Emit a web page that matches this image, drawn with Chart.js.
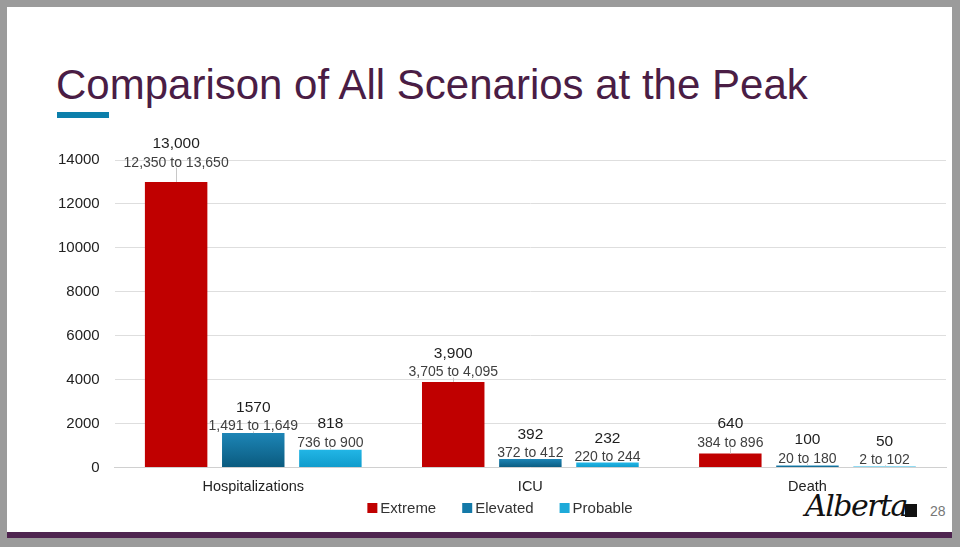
<!DOCTYPE html>
<html>
<head>
<meta charset="utf-8">
<script src="https://cdn.jsdelivr.net/npm/chart.js@4.4.0/dist/chart.umd.min.js"></script>
<style>
  html, body { margin: 0; padding: 0; }
  body { width: 960px; height: 547px; background: #9b9b9b; position: relative; overflow: hidden; font-family: "Liberation Sans", Arial, sans-serif; }
  .slide { position: absolute; left: 7px; top: 7px; width: 945px; height: 525px; background: #fff; }
  .footbar { position: absolute; left: 7px; top: 532px; width: 945px; height: 6px; background: #4f2550; }
  .title { position: absolute; left: 56px; top: 61px; font-size: 42px; color: #4a1d45; white-space: nowrap; }
  .underline { position: absolute; left: 57px; top: 112px; width: 52px; height: 6px; background: #0c7fab; }
  .logo { position: absolute; left: 805px; top: 488px; font-family: "DejaVu Serif", serif; font-style: italic; font-size: 30px; color: #111; letter-spacing: -1.5px; }
  .logo-box { position: absolute; left: 905px; top: 504px; width: 12px; height: 13px; background: #111; }
  .pagenum { position: absolute; left: 930px; top: 503px; font-size: 14px; color: #777; }
  #chart { position: absolute; left: 0; top: 0; }
</style>
</head>
<body>
<div class="slide"></div>
<div class="footbar"></div>
<div class="title">Comparison of All Scenarios at the Peak</div>
<div class="underline"></div>
<div class="logo">Alberta</div>
<div class="logo-box"></div>
<div class="pagenum">28</div>
<canvas id="chart" width="960" height="547"></canvas>
<script>
// --- DATA ---
const categories = ['Hospitalizations', 'ICU', 'Death'];
const scenarios = ['Extreme', 'Elevated', 'Probable'];
const extremeValues = [13000, 3900, 640];
const elevatedValues = [1570, 392, 100];
const probableValues = [818, 232, 50];
const extremeLow = [12350, 3705, 384];
const extremeHigh = [13650, 4095, 896];
const elevatedLow = [1491, 372, 20];
const elevatedHigh = [1649, 412, 180];
const probableLow = [736, 220, 2];
const probableHigh = [900, 244, 102];
const valueLabels = [
    ['13,000', '3,900', '640'],
    ['1570', '392', '100'],
    ['818', '232', '50']
];
const yTicks = [0, 2000, 4000, 6000, 8000, 10000, 12000, 14000];

const lows = [extremeLow, elevatedLow, probableLow];
const highs = [extremeHigh, elevatedHigh, probableHigh];
const legendColors = ['#c00000', '#1479a8', '#1eaad9'];
const FONT = '"Liberation Sans", Arial, sans-serif';

function fmt(n) {
    return n.toLocaleString('en-US');
}

// per-bar vertical gradient, like the shape fill in the slide
function gradient(top, bottom) {
    return (ctx) => {
        const chart = ctx.chart;
        if (!chart.chartArea || ctx.type !== 'data') return bottom;
        const y = chart.scales.y;
        const y0 = y.getPixelForValue(ctx.raw);
        const y1 = y.getPixelForValue(0);
        if (!(y1 > y0)) return bottom;
        const g = chart.ctx.createLinearGradient(0, y0, 0, y1);
        g.addColorStop(0, top);
        g.addColorStop(1, bottom);
        return g;
    };
}

// error bars + the two-line labels above each bar
const rangeLabels = {
    id: 'rangeLabels',
    afterDatasetsDraw(chart) {
        const ctx = chart.ctx;
        const y = chart.scales.y;
        ctx.save();
        chart.data.datasets.forEach((ds, di) => {
            const meta = chart.getDatasetMeta(di);
            meta.data.forEach((bar, i) => {
                const yHigh = y.getPixelForValue(highs[di][i]);
                ctx.strokeStyle = '#c8c8c8';
                ctx.lineWidth = 1;
                ctx.beginPath();
                ctx.moveTo(Math.round(bar.x) + 0.5, bar.y);
                ctx.lineTo(Math.round(bar.x) + 0.5, yHigh);
                ctx.stroke();

                ctx.textAlign = 'center';
                ctx.textBaseline = 'middle';
                ctx.fillStyle = '#404040';
                ctx.font = '14px ' + FONT;
                const rangeY = yHigh - 5;
                ctx.fillText(fmt(lows[di][i]) + ' to ' + fmt(highs[di][i]), bar.x, rangeY);
                ctx.fillStyle = '#1e1e1e';
                ctx.font = '15.5px ' + FONT;
                ctx.fillText(valueLabels[di][i], bar.x, rangeY - 19);
            });
        });
        ctx.restore();
    }
};

// legend row under the axis labels
const bottomLegend = {
    id: 'bottomLegend',
    afterDraw(chart) {
        const ctx = chart.ctx;
        ctx.save();
        ctx.font = '15px ' + FONT;
        ctx.textBaseline = 'middle';
        ctx.textAlign = 'left';
        const box = 10, gap = 3, space = 26;
        const names = chart.data.datasets.map(d => d.label);
        const widths = names.map(n => box + gap + ctx.measureText(n).width);
        const total = widths.reduce((a, b) => a + b, 0) + space * (names.length - 1);
        let x = 500 - total / 2;
        const yMid = 508;
        names.forEach((n, i) => {
            ctx.fillStyle = legendColors[i];
            ctx.fillRect(x, yMid - box / 2, box, box);
            ctx.fillStyle = '#333';
            ctx.fillText(n, x + box + gap, yMid + 1);
            x += widths[i] + space;
        });
        ctx.restore();
    }
};

new Chart(document.getElementById('chart'), {
    type: 'bar',
    data: {
        labels: categories,
        datasets: [
            { label: scenarios[0], data: extremeValues, backgroundColor: '#c00000' },
            { label: scenarios[1], data: elevatedValues, backgroundColor: gradient('#1d85b6', '#0a5a7e') },
            { label: scenarios[2], data: probableValues, backgroundColor: gradient('#22b6e6', '#0f9bcb') }
        ]
    },
    options: {
        responsive: false,
        animation: false,
        devicePixelRatio: 1,
        categoryPercentage: 0.835,
        barPercentage: 0.81,
        layout: { padding: { left: 43, right: 14, top: 160, bottom: 40 } },
        plugins: {
            legend: { display: false },
            tooltip: { enabled: false }
        },
        scales: {
            x: {
                grid: { display: false, drawTicks: false },
                border: { color: '#d0d0d0' },
                ticks: {
                    padding: 11,
                    color: '#222',
                    font: { size: 14.5, family: FONT }
                }
            },
            y: {
                min: 0,
                max: 14000,
                afterBuildTicks: (axis) => { axis.ticks = yTicks.map(v => ({ value: v })); },
                grid: { color: '#dedede', drawTicks: false },
                border: { display: false },
                ticks: {
                    padding: 15,
                    color: '#222',
                    font: { size: 15, family: FONT },
                    callback: (v) => String(v)
                }
            }
        }
    },
    plugins: [rangeLabels, bottomLegend]
});
</script>
</body>
</html>
